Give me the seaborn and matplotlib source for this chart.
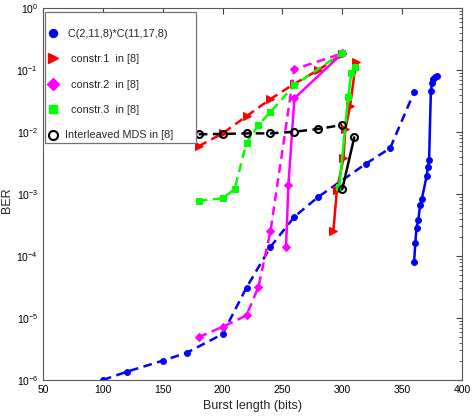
import matplotlib
matplotlib.use('Agg')
import matplotlib.pyplot as plt
import seaborn as sns
from matplotlib.lines import Line2D
from matplotlib.patches import Rectangle
from matplotlib.ticker import NullLocator, NullFormatter

# C(2,11,8)*C(11,17,8)
blue_dash_x = [100, 120, 150, 170, 200, 220, 240, 260, 280, 320, 340, 360]
blue_dash_y = [1.0e-6, 1.36e-6, 2.05e-6, 2.75e-6, 5.5e-6, 3.1e-5, 1.4e-4, 4.3e-4, 9.0e-4, 3.1e-3, 5.5e-3, 4.4e-2]
blue_solid_x = [360, 361, 362, 363.5, 365, 366.5, 370.5, 371.5, 372.5, 374, 375, 376, 377.5, 379.5]
blue_solid_y = [8.1e-5, 1.62e-4, 2.86e-4, 3.8e-4, 6.65e-4, 8.4e-4, 1.97e-3, 2.75e-3, 3.5e-3,
                0.046, 0.062, 0.071, 0.078, 0.081]

# constr.1
red_dash_x = [180, 200, 220, 240, 260, 280, 300]
red_dash_y = [5.9e-3, 9.5e-3, 0.018, 0.034, 0.06, 0.1, 0.18]
red_solid_x = [292.5, 295.5, 301, 302.5, 306.5, 311.5]
red_solid_y = [2.5e-4, 1.15e-3, 3.8e-3, 0.011, 0.026, 0.136]

# constr.2
mag_dash_x = [180, 200, 220, 230, 240, 260, 300]
mag_dash_y = [4.9e-6, 7.2e-6, 1.1e-5, 3.2e-5, 2.5e-4, 0.103, 0.185]
mag_solid_x = [253, 255, 260, 300]
mag_solid_y = [1.4e-4, 1.4e-3, 0.035, 0.185]

# constr.3
green_dash_x = [180, 200, 210, 220, 230, 240, 260, 300]
green_dash_y = [7.8e-4, 8.5e-4, 1.2e-3, 6.7e-3, 0.013, 0.021, 0.057, 0.19]
green_solid_x = [297.5, 305, 307.5, 310.5]
green_solid_y = [1.3e-3, 0.037, 0.088, 0.113]

# Interleaved MDS
black_dash_x = [180, 200, 220, 240, 260, 280, 300]
black_dash_y = [9.2e-3, 9.3e-3, 9.5e-3, 9.5e-3, 0.0101, 0.0112, 0.013]
black_solid_x = [300, 310]
black_solid_y = [1.2e-3, 8.2e-3]

x_ticks = [50, 100, 150, 200, 250, 300, 350, 400]
y_ticks = [1e-6, 1e-5, 1e-4, 1e-3, 1e-2, 1e-1, 1e0]

labels = [' C(2,11,8)*C(11,17,8)', '  constr.1  in [8]', '  constr.2  in [8]',
          '  constr.3  in [8]', 'Interleaved MDS in [8]']

sns.set_style('white')
plt.rcParams['font.family'] = ['Liberation Sans', 'DejaVu Sans']

fig = plt.figure(figsize=(4.72, 4.17), dpi=100)
ax = fig.add_axes([43 / 472, 1 - 380 / 417, 419 / 472, 372 / 417])

dash = (3.5, 2.2)
series = [
    (blue_dash_x, blue_dash_y, blue_solid_x, blue_solid_y, 'blue', 'o', 4.2, {}),
    (red_dash_x, red_dash_y, red_solid_x, red_solid_y, 'red', '>', 5.5, {}),
    (mag_dash_x, mag_dash_y, mag_solid_x, mag_solid_y, 'magenta', 'D', 4.2, {}),
    (green_dash_x, green_dash_y, green_solid_x, green_solid_y, 'lime', 's', 4.5, {}),
    (black_dash_x, black_dash_y, black_solid_x, black_solid_y, 'black', 'o', 5,
     {'markerfacecolor': 'none', 'markeredgewidth': 1.5}),
]
for dx, dy, sx, sy, c, m, ms, extra in series:
    sns.lineplot(x=dx, y=dy, ax=ax, color=c, marker=m, markersize=ms, lw=1.8,
                 linestyle='--', dashes=False, sort=False, estimator=None,
                 markeredgecolor=c, **extra).lines[-1].set_dashes(dash)
    sns.lineplot(x=sx, y=sy, ax=ax, color=c, marker=m, markersize=ms, lw=1.8,
                 sort=False, estimator=None, markeredgecolor=c, **extra)

ax.set_yscale('log')
ax.set_xlim(50, 400)
ax.set_ylim(1e-6, 1)
ax.set_xticks(x_ticks)
ax.set_yticks(y_ticks)
ax.xaxis.set_minor_locator(NullLocator())
ax.yaxis.set_minor_formatter(NullFormatter())
ax.tick_params(which='both', direction='in', top=True, right=True, labelsize=7.5,
               colors='0.25', labelcolor='black')
ax.tick_params(which='major', length=4)
ax.tick_params(which='minor', length=2)
for sp in ax.spines.values():
    sp.set_color('0.35')
    sp.set_linewidth(0.8)
ax.set_xlabel('Burst length (bits)', fontsize=9, labelpad=4)
ax.set_ylabel('BER', fontsize=9)
ax.yaxis.set_label_coords(-0.072, 0.484)

# legend box drawn separately, entries placed inside it
ax.add_patch(Rectangle((0.0048, 0.637), 0.360, 0.352, transform=ax.transAxes,
                       facecolor='white', edgecolor='0.45', lw=0.9, zorder=5))
handles = []
for (dx, dy, sx, sy, c, m, ms, extra) in series:
    handles.append(Line2D([], [], linestyle='none', color=c, marker=m, markersize=ms + 1.5,
                          markeredgecolor=c, **extra))
leg = ax.legend(handles, labels, loc='upper left', bbox_to_anchor=(0.0136, 0.944),
                borderaxespad=0, borderpad=0, frameon=False, fontsize=7.8,
                labelspacing=1.42, handletextpad=0.68, handlelength=0.8)
leg.set_zorder(6)

fig.savefig('out.png', dpi=100)
